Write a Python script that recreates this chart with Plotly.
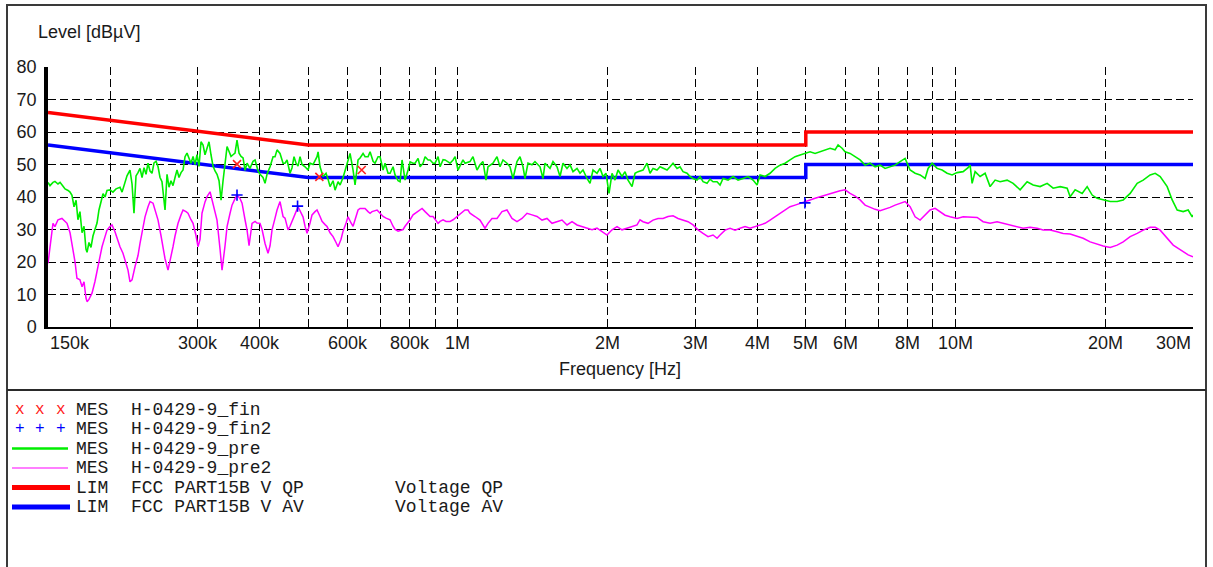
import numpy as np
import plotly.graph_objects as go

# ---------------- data (frequencies in MHz, levels in dBuV) ----------------
pre_freq_mhz = [
    0.1500, 0.1514, 0.1535, 0.1549, 0.1571, 0.1586, 0.1608, 0.1623, 0.1646, 0.1661,
    0.1676, 0.1692, 0.1708, 0.1723, 0.1739, 0.1756, 0.1772, 0.1788, 0.1797, 0.1813,
    0.1830, 0.1847, 0.1864, 0.1882, 0.1899, 0.1917, 0.1935, 0.1953, 0.1971, 0.1998,
    0.2026, 0.2055, 0.2074, 0.2093, 0.2113, 0.2142, 0.2162, 0.2192, 0.2213, 0.2233,
    0.2254, 0.2275, 0.2296, 0.2318, 0.2339, 0.2361, 0.2383, 0.2405, 0.2427, 0.2450,
    0.2473, 0.2496, 0.2519, 0.2542, 0.2566, 0.2578, 0.2602, 0.2626, 0.2650, 0.2675,
    0.2700, 0.2725, 0.2750, 0.2776, 0.2802, 0.2828, 0.2854, 0.2881, 0.2907, 0.2935,
    0.2962, 0.2989, 0.3017, 0.3045, 0.3074, 0.3102, 0.3131, 0.3160, 0.3189, 0.3219,
    0.3249, 0.3279, 0.3310, 0.3341, 0.3372, 0.3403, 0.3435, 0.3467, 0.3499, 0.3531,
    0.3564, 0.3597, 0.3631, 0.3665, 0.3699, 0.3733, 0.3768, 0.3820, 0.3874, 0.3910,
    0.3965, 0.4001, 0.4057, 0.4095, 0.4133, 0.4191, 0.4250, 0.4289, 0.4329, 0.4389,
    0.4451, 0.4492, 0.4534, 0.4597, 0.4640, 0.4683, 0.4727, 0.4771, 0.4815, 0.4860,
    0.4928, 0.4997, 0.5043, 0.5114, 0.5161, 0.5209, 0.5234, 0.5282, 0.5356, 0.5431,
    0.5481, 0.5532, 0.5610, 0.5662, 0.5741, 0.5795, 0.5876, 0.5930, 0.6013, 0.6069,
    0.6154, 0.6211, 0.6298, 0.6356, 0.6445, 0.6505, 0.6596, 0.6658, 0.6751, 0.6813,
    0.6909, 0.6973, 0.7070, 0.7136, 0.7236, 0.7303, 0.7405, 0.7474, 0.7579, 0.7649,
    0.7720, 0.7828, 0.7938, 0.8012, 0.8124, 0.8199, 0.8314, 0.8391, 0.8508, 0.8588,
    0.8708, 0.8789, 0.8911, 0.8994, 0.9120, 0.9205, 0.9334, 0.9420, 0.9552, 0.9641,
    0.9776, 0.9867, 1.0000, 1.0093, 1.0234, 1.0329, 1.0571, 1.0719, 1.0920, 1.1072,
    1.1227, 1.1384, 1.1490, 1.1759, 1.1979, 1.2146, 1.2316, 1.2546, 1.2721, 1.2899,
    1.3140, 1.3324, 1.3510, 1.3636, 1.3827, 1.4085, 1.4282, 1.4617, 1.4821, 1.4959,
    1.5309, 1.5523, 1.5813, 1.6034, 1.6258, 1.6562, 1.6794, 1.7029, 1.7347, 1.7589,
    1.7835, 1.8168, 1.8422, 1.8679, 1.9028, 1.9295, 1.9565, 1.9838, 2.0116, 2.0397,
    2.0682, 2.0971, 2.1363, 2.1662, 2.1965, 2.2376, 2.2688, 2.3005, 2.3544, 2.3984,
    2.4319, 2.4659, 2.5120, 2.5472, 2.5828, 2.6311, 2.6678, 2.7051, 2.7556, 2.7941,
    2.8332, 2.8862, 2.9266, 2.9675, 3.0229, 3.0651, 3.1080, 3.1661, 3.2104, 3.2553,
    3.3161, 3.3625, 3.4095, 3.4893, 3.5710, 3.6546, 3.7402, 3.8278, 3.9174, 3.9906,
    4.0464, 4.1411, 4.2381, 4.3373, 4.4388, 4.5427, 4.6491, 4.7580, 4.8694, 4.9834,
    5.1001, 5.2195, 5.3417, 5.4668, 5.5948, 5.7257, 5.8058, 5.9143, 5.9970, 6.1375,
    6.2811, 6.4282, 6.5787, 6.7327, 6.8904, 7.0517, 7.2168, 7.3858, 7.5587, 7.7357,
    7.9168, 8.1022, 8.2918, 8.4860, 8.6847, 8.8061, 8.9707, 9.1807, 9.3957, 9.6157,
    9.8408, 10.071, 10.355, 10.597, 10.696, 10.795, 10.946, 11.202, 11.464, 11.733,
    12.008, 12.289, 12.694, 13.052, 13.481, 13.925, 14.318, 14.789, 15.276, 15.706,
    16.223, 16.758, 16.992, 17.389, 17.963, 18.383, 18.813, 19.254, 19.796, 20.448,
    21.122, 21.717, 22.432, 23.170, 23.823, 24.608, 25.184, 25.773, 26.622, 27.246,
    27.884, 28.669, 29.340, 29.888, 30.000,
]
pre_level = [
    44.5, 43.5, 44.5, 44.8, 44.0, 44.5, 43.3, 42.5, 42.0, 41.5,
    40.5, 37.0, 39.0, 33.0, 35.5, 29.0, 31.0, 24.0, 23.0, 26.0,
    24.5, 28.0, 30.0, 32.0, 36.0, 38.5, 41.0, 40.0, 42.0, 42.2,
    41.5, 42.5, 42.8, 43.0, 41.5, 45.0, 46.5, 48.3, 44.0, 35.0,
    46.5, 47.5, 48.8, 46.0, 49.0, 47.0, 50.4, 48.0, 47.3, 50.5,
    51.0, 49.3, 46.0, 44.7, 39.0, 36.0, 47.0, 43.0, 45.0, 43.5,
    46.0, 48.3, 46.0, 47.5, 48.3, 52.4, 53.5, 52.0, 50.4, 52.5,
    50.0, 53.0, 49.4, 57.0, 56.0, 53.0, 55.0, 57.0, 53.0, 49.5,
    48.0, 47.0, 45.0, 39.0, 45.0, 51.0, 55.5, 54.0, 52.5, 53.0,
    53.5, 57.5, 53.5, 52.5, 52.0, 48.2, 50.4, 48.8, 51.0, 51.4,
    48.0, 47.0, 46.0, 44.2, 47.0, 49.3, 52.4, 52.4, 54.5, 53.4,
    50.4, 50.4, 51.4, 47.3, 49.0, 52.4, 50.4, 49.5, 52.4, 50.0,
    49.3, 48.3, 50.4, 50.0, 51.4, 52.4, 53.9, 49.3, 46.3, 47.3,
    45.5, 43.2, 45.0, 42.1, 44.7, 43.7, 46.0, 48.3, 51.4, 53.4,
    48.3, 43.7, 51.4, 52.0, 53.4, 52.4, 52.4, 53.9, 51.0, 50.4,
    52.4, 52.4, 48.3, 50.4, 47.3, 47.3, 49.3, 46.8, 45.0, 44.7,
    51.4, 45.2, 48.3, 50.8, 50.4, 50.4, 51.9, 49.3, 50.4, 52.4,
    51.4, 51.4, 50.4, 50.4, 52.4, 49.3, 51.5, 51.4, 50.8, 50.4,
    51.4, 52.4, 48.3, 49.5, 51.4, 50.4, 50.9, 52.4, 48.3, 49.9,
    50.9, 45.2, 49.3, 50.4, 52.4, 49.3, 51.4, 50.4, 49.3, 45.7,
    50.9, 52.4, 49.3, 45.7, 50.4, 49.9, 50.9, 49.3, 45.7, 50.4,
    48.8, 50.9, 49.3, 46.3, 50.4, 48.8, 49.9, 47.8, 48.8, 47.3,
    48.3, 45.7, 44.2, 48.3, 47.3, 48.8, 46.3, 47.3, 41.1, 47.3,
    45.2, 48.3, 46.3, 47.8, 45.2, 43.2, 47.3, 47.8, 48.3, 50.4,
    47.3, 48.8, 48.3, 49.3, 48.8, 48.3, 49.3, 50.4, 48.8, 49.3,
    47.8, 47.3, 46.3, 45.7, 45.2, 46.3, 44.7, 44.2, 45.5, 44.7,
    44.7, 43.7, 45.7, 45.2, 46.3, 45.2, 45.7, 46.3, 45.2, 43.7,
    46.8, 46.3, 47.3, 48.8, 49.8, 50.4, 51.4, 52.4, 52.9, 53.4,
    53.9, 53.4, 53.9, 54.5, 55.0, 54.5, 56.0, 55.0, 53.9, 53.4,
    52.4, 51.4, 49.8, 50.4, 49.3, 49.8, 48.8, 49.3, 49.8, 50.9,
    51.9, 48.3, 47.3, 46.8, 45.7, 48.8, 50.4, 48.8, 48.3, 47.3,
    46.8, 47.5, 47.8, 49.0, 49.85, 44.2, 47.8, 46.3, 47.3, 43.2,
    45.2, 44.7, 45.2, 44.2, 42.2, 44.7, 43.7, 43.2, 44.2, 42.7,
    43.2, 42.7, 40.1, 42.2, 41.1, 43.2, 40.6, 39.6, 39.1, 38.6,
    38.6, 39.1, 41.1, 44.2, 45.2, 46.8, 47.3, 46.3, 43.2, 39.1,
    36.0, 35.5, 36.0, 33.9, 34.5,
]

pre2_freq_mhz = [
    0.1500, 0.1514, 0.1535, 0.1549, 0.1571, 0.1600, 0.1623, 0.1638, 0.1661, 0.1676,
    0.1700, 0.1715, 0.1739, 0.1756, 0.1772, 0.1788, 0.1797, 0.1813, 0.1839, 0.1864,
    0.1891, 0.1908, 0.1926, 0.1953, 0.1971, 0.1998, 0.2017, 0.2045, 0.2074, 0.2093,
    0.2122, 0.2142, 0.2172, 0.2192, 0.2213, 0.2244, 0.2275, 0.2296, 0.2328, 0.2350,
    0.2383, 0.2405, 0.2439, 0.2473, 0.2496, 0.2531, 0.2554, 0.2578, 0.2614, 0.2638,
    0.2675, 0.2700, 0.2738, 0.2776, 0.2802, 0.2841, 0.2867, 0.2907, 0.2935, 0.2976,
    0.3003, 0.3031, 0.3059, 0.3102, 0.3131, 0.3175, 0.3219, 0.3249, 0.3279, 0.3325,
    0.3356, 0.3403, 0.3435, 0.3483, 0.3515, 0.3564, 0.3597, 0.3648, 0.3682, 0.3733,
    0.3768, 0.3803, 0.3856, 0.3910, 0.3946, 0.4001, 0.4039, 0.4095, 0.4152, 0.4191,
    0.4230, 0.4289, 0.4329, 0.4389, 0.4451, 0.4492, 0.4555, 0.4597, 0.4662, 0.4727,
    0.4771, 0.4837, 0.4882, 0.4928, 0.4974, 0.5043, 0.5090, 0.5161, 0.5209, 0.5282,
    0.5331, 0.5406, 0.5456, 0.5532, 0.5610, 0.5688, 0.5741, 0.5821, 0.5876, 0.5958,
    0.6013, 0.6097, 0.6154, 0.6240, 0.6298, 0.6356, 0.6445, 0.6505, 0.6596, 0.6658,
    0.6719, 0.6813, 0.6877, 0.6973, 0.7070, 0.7169, 0.7303, 0.7405, 0.7474, 0.7579,
    0.7649, 0.7756, 0.7828, 0.7938, 0.8012, 0.8124, 0.8275, 0.8391, 0.8469, 0.8588,
    0.8668, 0.8789, 0.8911, 0.8994, 0.9120, 0.9205, 0.9334, 0.9464, 0.9641, 0.9776,
    0.9958, 1.0093, 1.0234, 1.0329, 1.0474, 1.0571, 1.0819, 1.1072, 1.1331, 1.1490,
    1.1705, 1.1979, 1.2259, 1.2546, 1.2840, 1.3140, 1.3448, 1.3763, 1.4085, 1.4415,
    1.4753, 1.5098, 1.5452, 1.5813, 1.6183, 1.6562, 1.6950, 1.7347, 1.7753, 1.8168,
    1.8593, 1.9028, 1.9474, 1.9930, 2.0397, 2.0875, 2.1363, 2.1863, 2.2376, 2.2899,
    2.3219, 2.3544, 2.4095, 2.4659, 2.5237, 2.5828, 2.6432, 2.7051, 2.7684, 2.8332,
    2.8996, 2.9675, 3.0369, 3.1080, 3.1808, 3.2553, 3.3161, 3.3625, 3.4412, 3.5218,
    3.6042, 3.6886, 3.7749, 3.8634, 3.9538, 4.0464, 4.1411, 4.2381, 4.3373, 4.4388,
    4.5427, 4.6491, 4.7580, 4.8694, 4.9834, 5.1001, 5.2195, 5.3417, 5.4668, 5.5948,
    5.7257, 5.8598, 5.9970, 6.1375, 6.2811, 6.4282, 6.5787, 6.7327, 6.8904, 7.0517,
    7.2168, 7.3858, 7.5587, 7.7357, 7.9168, 8.1022, 8.2918, 8.4860, 8.6847, 8.8880,
    9.0961, 9.3091, 9.5270, 9.7500, 10.071, 10.355, 10.696, 11.048, 11.359, 11.733,
    12.120, 12.461, 12.872, 13.296, 13.670, 14.120, 14.585, 14.996, 15.490, 16.000,
    16.450, 16.992, 17.551, 18.046, 18.640, 19.254, 19.796, 20.448, 21.122, 21.717,
    22.432, 23.170, 23.823, 24.608, 25.184, 25.773, 26.622, 27.372, 28.013, 28.669,
    29.340, 30.000,
]
pre2_level = [
    19.6, 25.0, 31.9, 30.9, 33.0, 33.4, 32.5, 31.9, 29.0, 25.5,
    20.0, 15.0, 14.5, 12.4, 13.9, 9.0, 7.8, 8.5, 10.4, 14.0,
    18.6, 21.0, 24.7, 27.8, 29.8, 30.9, 31.4, 29.3, 26.0, 24.7,
    22.7, 20.6, 17.5, 13.9, 14.5, 18.6, 22.0, 25.7, 30.0, 33.9,
    37.0, 38.6, 38.1, 35.0, 32.9, 28.0, 24.7, 21.0, 17.5, 20.0,
    24.7, 28.0, 31.9, 34.5, 36.0, 35.5, 35.0, 33.0, 31.9, 28.0,
    24.7, 27.0, 35.0, 38.5, 40.1, 41.6, 38.1, 35.0, 32.9, 24.0,
    17.5, 25.0, 30.9, 35.0, 37.5, 39.5, 40.6, 39.5, 38.1, 33.0,
    29.8, 25.0, 31.9, 32.5, 32.0, 31.9, 30.0, 25.7, 22.7, 25.0,
    29.9, 33.5, 36.0, 38.6, 34.0, 33.5, 29.9, 31.0, 33.0, 35.5,
    37.0, 35.0, 33.9, 31.0, 28.8, 32.0, 34.5, 35.5, 36.0, 34.0,
    32.5, 31.5, 30.9, 29.0, 27.8, 26.0, 24.7, 27.0, 29.5, 32.0,
    33.9, 32.0, 31.0, 34.0, 36.0, 36.5, 36.5, 36.5, 35.5, 35.0,
    35.5, 35.8, 36.0, 35.0, 34.0, 33.5, 33.0, 31.0, 30.0, 29.5,
    29.8, 30.0, 31.0, 32.0, 33.0, 34.5, 35.5, 36.0, 36.5, 35.5,
    35.0, 34.0, 34.0, 33.0, 31.9, 32.5, 33.0, 32.5, 32.5, 33.0,
    34.0, 35.0, 35.5, 36.0, 36.0, 35.0, 34.0, 32.9, 30.4, 31.9,
    33.4, 33.4, 35.5, 36.0, 33.4, 32.4, 33.4, 35.0, 34.5, 34.0,
    32.9, 33.4, 31.9, 32.4, 32.9, 31.4, 32.4, 31.4, 30.9, 30.4,
    29.9, 30.4, 29.3, 28.3, 29.9, 30.9, 29.9, 30.4, 30.9, 31.4,
    33.0, 32.4, 31.9, 32.9, 33.4, 33.4, 34.0, 34.2, 33.4, 32.9,
    32.4, 31.4, 29.9, 28.8, 27.8, 28.3, 27.3, 28.3, 29.8, 30.4,
    29.8, 30.4, 30.9, 30.4, 30.9, 31.4, 31.9, 32.9, 33.9, 35.0,
    36.0, 37.0, 37.5, 38.1, 38.6, 39.1, 39.6, 40.1, 40.6, 41.1,
    41.6, 41.9, 42.2, 41.1, 40.3, 39.1, 37.5, 36.8, 36.2, 35.8,
    36.2, 36.8, 37.5, 38.1, 38.6, 37.0, 33.9, 32.9, 34.4, 36.0,
    36.5, 35.5, 34.4, 33.9, 33.4, 33.9, 33.9, 33.7, 32.4, 31.9,
    32.4, 31.9, 31.4, 30.9, 30.4, 30.7, 30.4, 29.85, 29.85, 29.3,
    28.8, 28.6, 27.8, 27.3, 26.2, 25.5, 24.9, 24.5, 25.2, 26.2,
    27.8, 28.8, 29.8, 30.7, 30.7, 29.8, 27.3, 25.2, 24.2, 23.2,
    22.2, 21.6,
]

fin_freq_mhz = [0.3597, 0.5265, 0.6405]
fin_level = [50.1, 46.2, 48.3]
fin2_freq_mhz = [0.3597, 0.4760, 4.98]
fin2_level = [40.6, 37.2, 38.2]

qp_freq_mhz = [0.15, 0.5, 5.0, 5.0, 30.0]
qp_level = [66, 56, 56, 60, 60]
av_freq_mhz = [0.15, 0.5, 5.0, 5.0, 30.0]
av_level = [56, 46, 46, 50, 50]

grid_freq_mhz = [0.15, 0.2, 0.3, 0.4, 0.5, 0.6, 0.7, 0.8, 0.9, 1, 2, 3, 4, 5, 6, 7, 8, 9, 10, 20, 30]
xtick_freq_mhz = [0.15, 0.3, 0.4, 0.6, 0.8, 1, 2, 3, 4, 5, 6, 8, 10, 20, 30]
xtick_labels = ["150k", "300k", "400k", "600k", "800k", "1M", "2M", "3M", "4M", "5M", "6M", "8M", "10M", "20M", "30M"]
ytick_values = [0, 10, 20, 30, 40, 50, 60, 70, 80]

legend_codes = ["MES", "MES", "MES", "MES", "LIM", "LIM"]
legend_names = ["H-0429-9_fin", "H-0429-9_fin2", "H-0429-9_pre", "H-0429-9_pre2",
                "FCC PART15B V QP", "FCC PART15B V AV"]
legend_notes = ["", "", "", "", "Voltage QP", "Voltage AV"]

# ---------------- layout helpers (pixel -> paper) ----------------
W, H = 1213, 567
L, R, T, B = 48, 1193, 67, 327


def px(x):
    return (x - L) / (R - L)


def py(y):
    return (B - y) / (B - T)


SANS = "Liberation Sans, Arial, sans-serif"
MONO = "Liberation Mono, Courier New, monospace"
TXT = "#1a1a1a"

fig = go.Figure()
fig.add_trace(go.Scatter(x=qp_freq_mhz, y=qp_level, mode="lines",
                         line=dict(color="#ff0000", width=3.5), hoverinfo="skip"))
fig.add_trace(go.Scatter(x=av_freq_mhz, y=av_level, mode="lines",
                         line=dict(color="#0000ff", width=3.5), hoverinfo="skip"))
fig.add_trace(go.Scatter(x=pre_freq_mhz, y=pre_level, mode="lines",
                         line=dict(color="#00ee00", width=1.6), hoverinfo="skip"))
fig.add_trace(go.Scatter(x=pre2_freq_mhz, y=pre2_level, mode="lines",
                         line=dict(color="#ff00ff", width=1.5), hoverinfo="skip"))
fig.add_trace(go.Scatter(x=fin_freq_mhz, y=fin_level, mode="markers",
                         marker=dict(symbol="x-thin", size=8, line=dict(color="#ff2020", width=1.6)),
                         hoverinfo="skip"))
fig.add_trace(go.Scatter(x=fin2_freq_mhz, y=fin2_level, mode="markers",
                         marker=dict(symbol="cross-thin", size=8, line=dict(color="#0000ff", width=1.6)),
                         hoverinfo="skip"))

grid = dict(showgrid=True, gridcolor="black", gridwidth=1.2, griddash="8px,4px")

fig.update_xaxes(type="log", range=[np.log10(0.15), np.log10(30)],
                 tickvals=grid_freq_mhz, showticklabels=False, ticks="",
                 showline=True, linecolor="black", linewidth=2, zeroline=False, **grid)
fig.update_yaxes(range=[0, 80], tickvals=ytick_values, ticktext=[str(v) for v in ytick_values],
                 ticks="", ticklabelstandoff=4,
                 tickfont=dict(family=SANS, size=18, color=TXT),
                 showline=True, linecolor="black", linewidth=3.5, zeroline=False, **grid)

ann = []
for f, lab in zip(xtick_freq_mhz, xtick_labels):
    anchor = "left" if lab == "150k" else ("right" if lab == "30M" else "center")
    ann.append(dict(x=np.log10(f), xref="x", y=py(342.5), yref="paper", text=lab,
                    showarrow=False, xanchor=anchor, yanchor="middle",
                    font=dict(family=SANS, size=18, color=TXT)))
ann.append(dict(x=px(620), xref="paper", y=py(369), yref="paper", text="Frequency [Hz]",
                showarrow=False, xanchor="center", yanchor="middle",
                font=dict(family=SANS, size=18, color=TXT)))
ann.append(dict(x=px(36), xref="paper", y=py(32), yref="paper", text="Level [dBµV]",
                showarrow=False, xanchor="left", yanchor="middle",
                font=dict(family=SANS, size=18, color=TXT)))

shapes = []
# outer frames
shapes.append(dict(type="rect", xref="paper", yref="paper", x0=px(7), x1=px(1206),
                   y0=py(600), y1=py(5), line=dict(color="#3a3a3a", width=2)))
shapes.append(dict(type="line", xref="paper", yref="paper", x0=px(7), x1=px(1206),
                   y0=py(390), y1=py(390), line=dict(color="#2a2a2a", width=2)))

row_y = [409.5, 429.0, 448.5, 468.0, 487.5, 507.0]
sym_x = [20, 40, 61]
for i in range(6):
    yy = py(row_y[i])
    ann.append(dict(x=px(74), xref="paper", y=yy, yref="paper", text=legend_codes[i],
                    showarrow=False, xanchor="left", yanchor="middle",
                    font=dict(family=MONO, size=18, color=TXT)))
    ann.append(dict(x=px(129), xref="paper", y=yy, yref="paper", text=legend_names[i],
                    showarrow=False, xanchor="left", yanchor="middle",
                    font=dict(family=MONO, size=18, color=TXT)))
    if legend_notes[i]:
        ann.append(dict(x=px(393), xref="paper", y=yy, yref="paper", text=legend_notes[i],
                        showarrow=False, xanchor="left", yanchor="middle",
                        font=dict(family=MONO, size=18, color=TXT)))
for sx in sym_x:
    ann.append(dict(x=px(sx), xref="paper", y=py(row_y[0]), yref="paper", text="x",
                    showarrow=False, xanchor="center", yanchor="middle",
                    font=dict(family=MONO, size=16, color="#ff2020")))
    ann.append(dict(x=px(sx), xref="paper", y=py(row_y[1]), yref="paper", text="+",
                    showarrow=False, xanchor="center", yanchor="middle",
                    font=dict(family=MONO, size=16, color="#0000ff")))
legend_lines = [(2, "#00ee00", 2.5, 68), (3, "#ff00ff", 1.2, 68), (4, "#ff0000", 5, 70), (5, "#0000ff", 5, 70)]
for idx, col, w, xend in legend_lines:
    shapes.append(dict(type="line", xref="paper", yref="paper", x0=px(12), x1=px(xend),
                       y0=py(row_y[idx]), y1=py(row_y[idx]), line=dict(color=col, width=w)))

fig.update_layout(width=W, height=H, margin=dict(l=L, r=W - R, t=T, b=H - B),
                  paper_bgcolor="white", plot_bgcolor="white", showlegend=False,
                  hovermode=False, annotations=ann, shapes=shapes,
                  font=dict(family=SANS, color=TXT))

fig.write_html("out.html")
